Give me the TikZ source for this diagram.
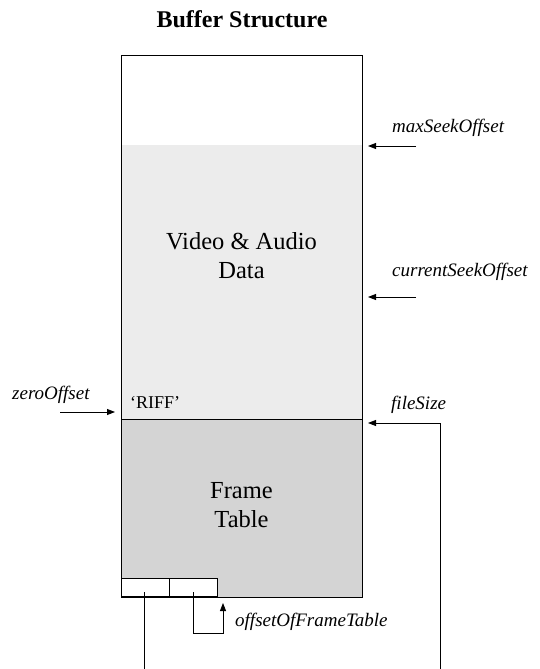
\documentclass[tikz,border=0pt]{standalone}
\usepackage{fontspec}
\setmainfont{Liberation Serif}
\usetikzlibrary{arrows.meta}
\definecolor{lightfill}{HTML}{ECECEC}
\definecolor{darkfill}{HTML}{D4D4D4}
\begin{document}
\begin{tikzpicture}[x=1pt,y=-1pt,
  arr/.style={-{Triangle[length=8pt,width=6pt]}, line width=0.9pt},
  conn/.style={line width=0.9pt},
  lbl/.style={font=\fontsize{19}{22}\selectfont\itshape, anchor=west, inner sep=0pt},
  bodytext/.style={font=\fontsize{24.5}{29}\selectfont, align=center, inner sep=0pt},
  titletext/.style={font=\fontsize{24}{27}\selectfont\bfseries, inner sep=0pt},
  cell/.style={draw, fill=white, line width=0.9pt, minimum width=48pt, minimum height=18pt, inner sep=0pt, anchor=south west},
]
\useasboundingbox (0,0) rectangle (540,669);
\fill[white] (0,0) rectangle (540,669);

\node[titletext] (title) at (242,19) {Buffer Structure};

% regions
\fill[lightfill] (121,145) rectangle (362,419);
\fill[darkfill] (121,419) rectangle (362,597);
\coordinate (divL) at (121,419);
\coordinate (divR) at (362,419);
\draw[conn] (divL) -- (divR);
\node[draw, line width=1pt, minimum width=241pt, minimum height=542pt, inner sep=0pt, anchor=north west] (buf) at (121,55) {};

\node[bodytext] (vad) at (241.5,256) {Video \& Audio\\Data};
\node[bodytext] (ft) at (241.5,505) {Frame\\Table};
\node[font=\fontsize{18}{20}\selectfont, anchor=west, inner sep=0pt] (riff) at (130,403) {`RIFF'};

% small cells
\node[cell] (c1) at (121,597) {};
\node[cell] (c2) at (169,597) {};

% right labels
\node[lbl] (maxs) at (392,128) {maxSeekOffset};
\coordinate (maxsA) at (416,146);
\coordinate (maxsB) at (368,146);
\draw[arr] (maxsA) -- (maxsB);

\node[lbl] (curs) at (392,272) {currentSeekOffset};
\coordinate (cursA) at (416,297);
\coordinate (cursB) at (368,297);
\draw[arr] (cursA) -- (cursB);

\node[lbl] (zero) at (12,395) {zeroOffset};
\coordinate (zeroA) at (60,412);
\coordinate (zeroB) at (115,412);
\draw[arr] (zeroA) -- (zeroB);

\node[lbl] (fs) at (391,405) {fileSize};
\coordinate (fsBot) at (440,669);
\coordinate (fsTip) at (368,423);
\draw[arr] (fsBot) |- (fsTip);

\node[lbl] (oft) at (235,622) {offsetOfFrameTable};
\coordinate (c2in) at (193,592);
\coordinate (oftTip) at (223,603);
\draw[arr] (c2in) -- (193,633) -| (oftTip);

\coordinate (c1in) at (144,592);
\coordinate (c1Bot) at (144,669);
\draw[conn] (c1in) -- (c1Bot);
\end{tikzpicture}
\end{document}
